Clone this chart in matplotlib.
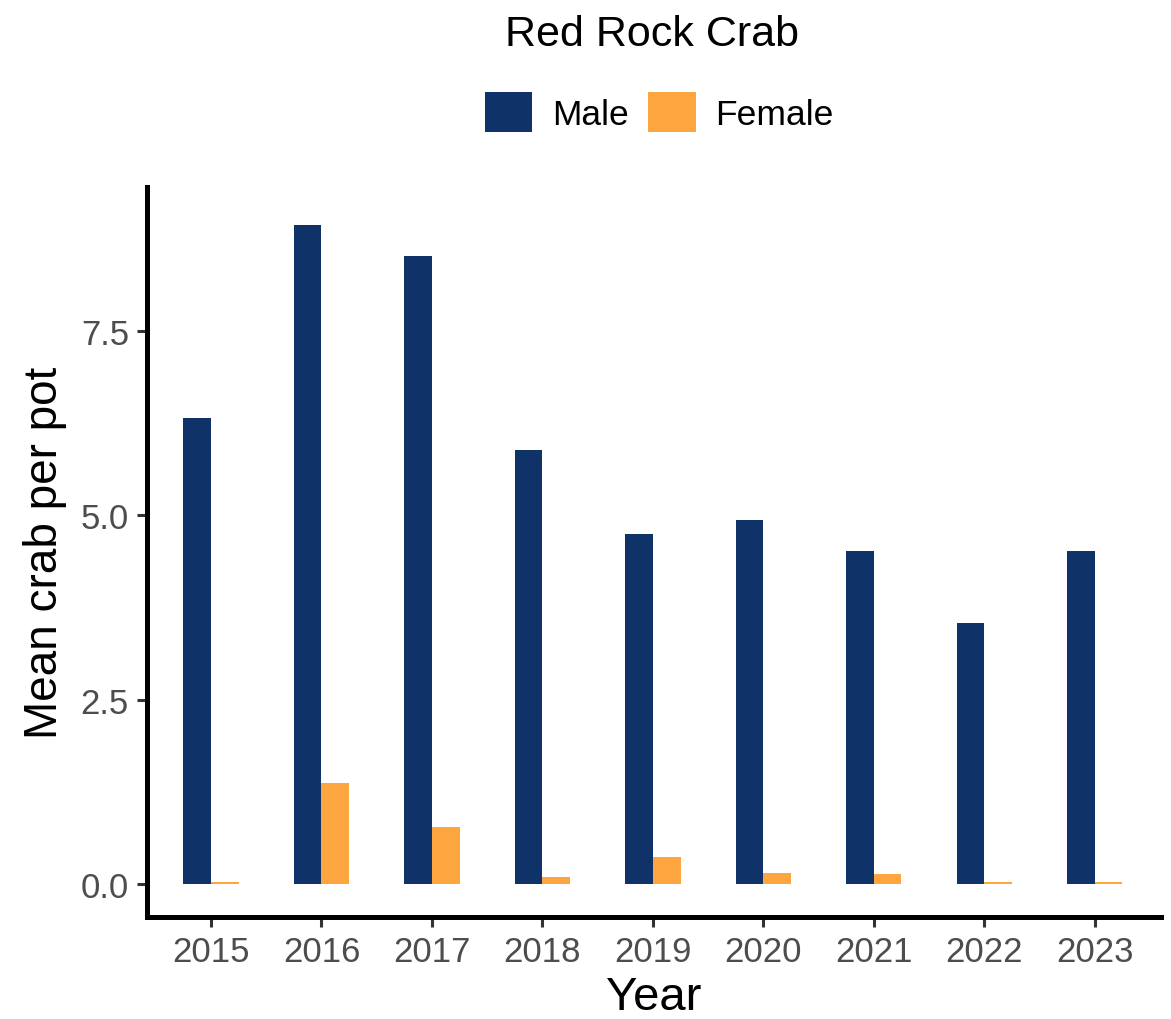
import matplotlib
matplotlib.use("Agg")
import matplotlib.pyplot as plt
import numpy as np

plt.rcParams['font.family'] = ['Liberation Sans', 'DejaVu Sans']

years = ["2015", "2016", "2017", "2018", "2019", "2020", "2021", "2022", "2023"]
male = [6.32, 8.94, 8.51, 5.89, 4.74, 4.93, 4.52, 3.54, 4.52]
female = [0.03, 1.37, 0.77, 0.10, 0.36, 0.15, 0.14, 0.03, 0.03]

male_col = "#0F3369"
female_col = "#FDA53F"

fig = plt.figure(figsize=(11.71, 10.2), dpi=100)
ax = fig.add_axes([0.1255, 0.1, 0.866, 0.7157])

x = np.arange(1, len(years) + 1)
w = 0.25
ax.bar(x - w / 2, male, width=w, color=male_col, label="Male")
ax.bar(x + w / 2, female, width=w, color=female_col, label="Female")

ax.set_xlim(0.42, 9.6)
ax.set_ylim(-0.448, 9.45)
ax.set_xticks(x)
ax.set_xticklabels(years)
ax.set_yticks([0, 2.5, 5.0, 7.5])
ax.set_yticklabels(["0.0", "2.5", "5.0", "7.5"])

for s in ["top", "right"]:
    ax.spines[s].set_visible(False)
for s in ["left", "bottom"]:
    ax.spines[s].set_linewidth(3.6)
    ax.spines[s].set_color("black")

ax.tick_params(axis="both", length=7, width=2.2, color="#333333",
               labelsize=25, labelcolor="#4D4D4D", pad=6)

ax.set_xlabel("Year", fontsize=34, labelpad=5)
ax.set_ylabel("Mean crab per pot", fontsize=33, labelpad=10)

fig.text(0.557, 0.966, "Red Rock Crab", fontsize=31, ha="center", va="center")

fig.legend(loc="center", bbox_to_anchor=(0.563, 0.889), ncol=2, frameon=False,
           fontsize=25.5, handlelength=1.35, handleheight=1.35,
           handletextpad=0.55, columnspacing=0.55)

fig.savefig("out.png", dpi=100)
